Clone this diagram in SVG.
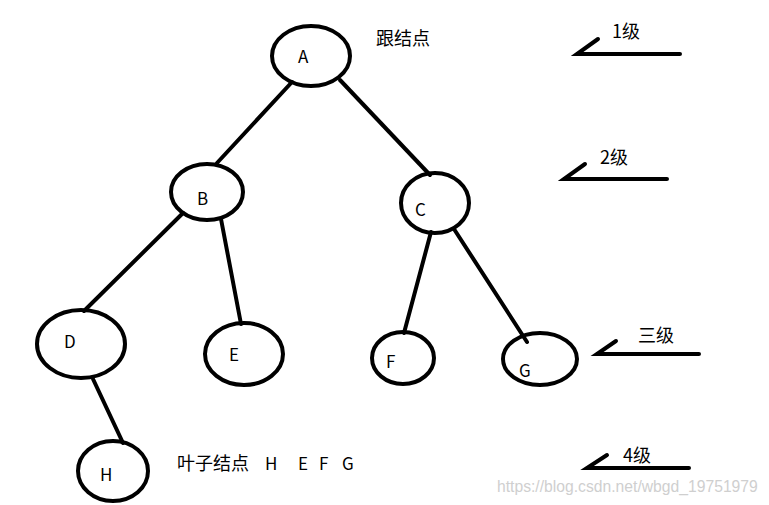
<svg xmlns="http://www.w3.org/2000/svg" width="769" height="505" viewBox="0 0 769 505">
<style>
.n{fill:none;stroke:#000;stroke-width:4}
.e{stroke:#000;stroke-width:4;fill:none;stroke-linecap:round}
.t{font-family:"Noto Sans CJK SC","Liberation Sans",sans-serif;font-size:17px;fill:#000}
.c{font-size:18px}
.w{font-family:"Liberation Sans",sans-serif;font-size:15.7px;fill:#cfcfcf}
</style>
<rect width="769" height="505" fill="#fff"/>
<g id="connectors">
<line class="e" x1="292" y1="82" x2="217" y2="163"/>
<line class="e" x1="340" y1="80" x2="430" y2="175"/>
<line class="e" x1="183" y1="213" x2="84" y2="311"/>
<line class="e" x1="221" y1="219" x2="241" y2="324"/>
<line class="e" x1="431" y1="232" x2="404" y2="333"/>
<line class="e" x1="454" y1="229" x2="527" y2="342"/>
<line class="e" x1="93" y1="379" x2="123" y2="443"/>
</g>
<g id="A"><ellipse class="n" cx="311" cy="56" rx="39" ry="30"/><text class="t" x="298" y="63">A</text></g>
<g id="B"><ellipse class="n" cx="207" cy="192" rx="36" ry="28"/><text class="t" x="197" y="205">B</text></g>
<g id="C"><ellipse class="n" cx="435" cy="203" rx="34" ry="30"/><text class="t" x="415" y="216">C</text></g>
<g id="D"><ellipse class="n" cx="81" cy="344" rx="44" ry="34"/><text class="t" x="64" y="348">D</text></g>
<g id="E"><ellipse class="n" cx="244" cy="354" rx="39" ry="31"/><text class="t" x="229" y="361">E</text></g>
<g id="F"><ellipse class="n" cx="403" cy="358" rx="31" ry="26"/><text class="t" x="386" y="368">F</text></g>
<g id="G"><ellipse class="n" cx="540" cy="359" rx="37" ry="26"/><text class="t" x="519" y="377">G</text></g>
<g id="H"><ellipse class="n" cx="113" cy="471" rx="35" ry="30"/><text class="t" x="100" y="481">H</text></g>
<g id="labels">
<text class="t c" x="376" y="45">跟结点</text>
<polyline class="e" points="598,39 577,54 680,54"/>
<text class="t c" x="612" y="38">1级</text>
<polyline class="e" points="585,164 564,179 667,179"/>
<text class="t c" x="600" y="164">2级</text>
<polyline class="e" points="616,341 597,354 699,354"/>
<text class="t c" x="638" y="342">三级</text>
<polyline class="e" points="607,455 587,468 689,468"/>
<text class="t c" x="623" y="462">4级</text>
<text class="t c" x="177" y="470">叶子结点</text>
<text class="t" x="265" y="470">H</text>
<text class="t" x="298" y="470">E</text>
<text class="t" x="319" y="470">F</text>
<text class="t" x="342" y="470">G</text>
<text class="w" x="497" y="492">https://blog.csdn.net/wbgd_19751979</text>
</g>
</svg>
